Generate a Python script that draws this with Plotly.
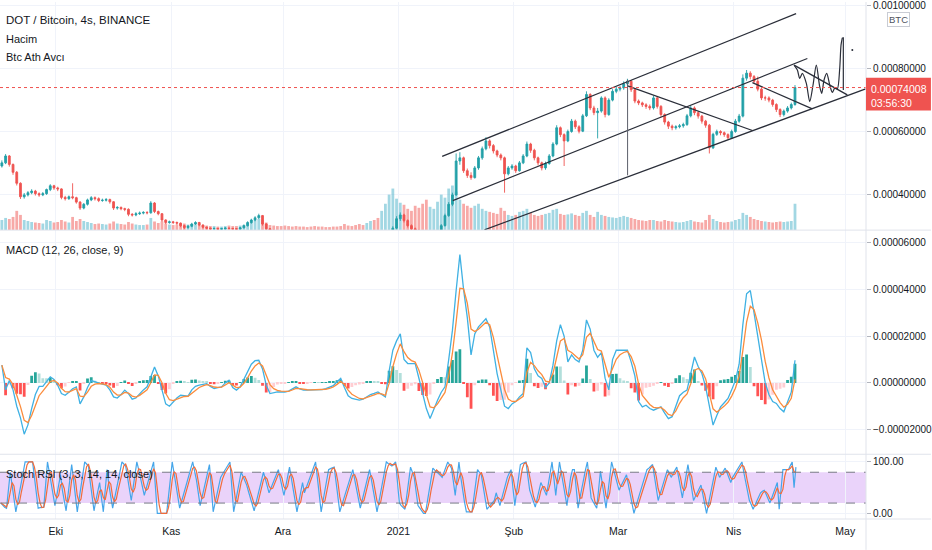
import numpy as np
import pandas as pd
import plotly.graph_objects as go

# ------------------------------------------------------------------ data
# daily bars from 2020-09-16 to 2021-04-17 (prices in 1e-6 BTC)
first_open_u = 490
close_u = [
    500, 522, 495, 470, 435, 392, 398,
    405, 410, 402, 398, 402, 415, 427,
    420, 417, 390, 386, 392, 389, 375,
    356, 368, 382, 389, 386, 380, 381,
    383, 376, 356, 358, 354, 352, 336,
    334, 338, 340, 342, 341, 372, 345,
    338, 318, 310, 312, 310, 308, 300,
    294, 298, 305, 310, 302, 295, 292,
    290, 291, 289, 290, 292, 291, 290,
    289, 293, 300, 310, 318, 325, 332,
    305, 290, 284, 280, 278, 276, 275,
    273, 272, 270, 268, 266, 265, 262,
    258, 256, 255, 254, 252, 250, 248,
    244, 232, 226, 222, 218, 214, 212,
    214, 218, 216, 215, 220, 235, 262,
    292, 322, 334, 316, 300, 290, 284,
    276, 266, 258, 262, 270, 282, 300,
    332, 368, 398, 506, 516, 475, 460,
    453, 484, 516, 545, 570, 555, 538,
    525, 516, 465, 484, 490, 475, 500,
    522, 560, 540, 516, 500, 484, 498,
    522, 560, 612, 590, 570, 600, 633,
    615, 601, 650, 718, 675, 660, 665,
    707, 654, 700, 728, 735, 739, 752,
    760, 733, 697, 691, 685, 680, 675,
    707, 680, 654, 630, 617, 612, 615,
    618, 622, 650, 675, 660, 649, 633,
    620, 548, 591, 600, 596, 590, 580,
    600, 633, 649, 770, 786, 775, 760,
    735, 707, 707, 700, 686, 670, 654,
    665, 675, 686, 740,
]
high_u = [
    508, 528, 525, 498, 474, 438, 404,
    410, 416, 414, 406, 407, 418, 432,
    430, 424, 419, 395, 396, 435, 392,
    378, 372, 386, 394, 393, 390, 386,
    388, 386, 378, 362, 361, 357, 355,
    340, 343, 345, 346, 346, 378, 375,
    348, 340, 320, 316, 315, 313, 310,
    303, 302, 309, 314, 312, 304, 297,
    294, 294, 293, 293, 295, 294, 293,
    292, 296, 304, 314, 322, 330, 338,
    334, 308, 292, 287, 283, 281, 279,
    278, 276, 275, 273, 271, 269, 268,
    264, 261, 259, 258, 257, 255, 253,
    251, 246, 234, 228, 224, 220, 216,
    217, 221, 221, 219, 224, 239, 268,
    298, 330, 342, 338, 320, 304, 294,
    288, 280, 270, 266, 274, 286, 305,
    338, 375, 405, 530, 534, 520, 482,
    470, 490, 522, 552, 582, 575, 560,
    542, 530, 520, 490, 496, 494, 506,
    528, 568, 564, 545, 520, 504, 504,
    528, 566, 620, 616, 594, 606, 640,
    638, 620, 656, 728, 722, 682, 675,
    712, 712, 706, 735, 742, 746, 760,
    768, 764, 737, 702, 695, 690, 686,
    714, 711, 684, 658, 634, 622, 620,
    624, 628, 656, 682, 680, 664, 653,
    637, 624, 596, 606, 604, 600, 594,
    606, 640, 656, 782, 796, 792, 780,
    775, 740, 714, 712, 704, 690, 674,
    670, 681, 692, 748,
]
low_u = [
    485, 496, 488, 462, 428, 385, 386,
    393, 400, 396, 392, 394, 398, 410,
    414, 410, 384, 380, 382, 384, 370,
    350, 352, 364, 378, 380, 375, 376,
    377, 370, 350, 351, 349, 346, 330,
    329, 330, 334, 336, 336, 338, 340,
    333, 312, 305, 306, 305, 303, 295,
    289, 290, 295, 302, 298, 291, 288,
    286, 287, 286, 286, 287, 288, 287,
    285, 287, 291, 297, 306, 314, 321,
    300, 285, 280, 276, 274, 272, 271,
    269, 268, 266, 264, 262, 261, 258,
    254, 252, 251, 250, 248, 246, 244,
    240, 228, 222, 218, 214, 210, 208,
    209, 211, 212, 211, 212, 218, 232,
    258, 288, 315, 310, 294, 284, 278,
    270, 260, 252, 254, 258, 267, 279,
    297, 328, 362, 395, 494, 468, 452,
    446, 450, 478, 510, 540, 546, 530,
    518, 508, 405, 460, 478, 468, 472,
    496, 518, 532, 508, 492, 476, 478,
    494, 518, 556, 582, 490, 566, 596,
    608, 594, 598, 646, 668, 652, 578,
    660, 645, 650, 696, 722, 728, 733,
    745, 726, 690, 684, 678, 672, 668,
    670, 673, 647, 622, 608, 604, 606,
    610, 612, 618, 645, 652, 641, 625,
    612, 530, 544, 586, 588, 583, 574,
    576, 596, 628, 645, 762, 766, 752,
    728, 700, 698, 693, 679, 662, 646,
    648, 660, 670, 682,
]
volume = [
    200, 240, 220, 260, 380, 300, 200,
    180, 160, 150, 140, 130, 200, 180,
    150, 160, 200, 170, 150, 260, 180,
    220, 180, 160, 140, 120, 130, 120,
    110, 130, 170, 130, 120, 110, 160,
    130, 110, 100, 100, 110, 240, 170,
    140, 170, 130, 110, 100, 110, 120,
    130, 110, 120, 110, 100, 90, 90,
    80, 80, 70, 70, 80, 90, 80,
    80, 90, 100, 120, 160, 200, 220,
    200, 150, 100, 90, 80, 80, 90,
    80, 70, 80, 70, 70, 60, 70,
    80, 70, 70, 60, 60, 70, 70,
    80, 120, 90, 80, 100, 120, 100,
    140, 180, 200, 240, 380, 520, 700,
    820, 620, 540, 500, 420, 380, 480,
    440, 520, 600, 460, 420, 560, 700,
    640, 820, 880, 760, 600, 520, 480,
    440, 480, 520, 420, 380, 360, 340,
    320, 440, 380, 300, 280, 300, 360,
    380, 420, 340, 300, 280, 300, 320,
    340, 400, 420, 320, 300, 310, 330,
    300, 280, 340, 380, 300, 260, 360,
    300, 280, 260, 250, 240, 260, 280,
    260, 240, 220, 200, 190, 180, 200,
    200, 180, 170, 200, 180, 170, 160,
    150, 160, 180, 200, 170, 160, 150,
    200, 300, 220, 180, 160, 150, 160,
    170, 200, 220, 340, 300, 260, 220,
    200, 180, 170, 160, 150, 160, 170,
    160, 170, 180, 520,
]
# MACD line, daily (1e-6 BTC)
macd_u = [
    7.6, -3, 1, -3, -10, -15, -22,
    -18, -11, -5, -1.5, -1.5, 0.5, 2.6,
    1.5, -1, -4.6, -5.3, -4, -2.5, -1.7,
    -9, -6, -2, 1, 0.4, 0, -0.5,
    -1, -3, -6, -6.5, -5, -3.1, -4.6,
    -7, -6.5, -4.6, -3, -1.7, 3, 6.8,
    3, -3, -9, -10, -8, -6.5, -5.3,
    -5.5, -5.7, -3, -1.5, -1, -0.6, -0.3,
    -1.5, -2.4, -2, -1.7, 0, 1.1, -2,
    -3.1, -1.7, 1.5, 4.5, 8, 9.5, 9.7,
    6, -1, -4.6, -4.2, -3.9, -3.9, -3.9,
    -3.5, -2.5, -1.7, -2.6, -3.1, -3.1, -3.1,
    -3, -3, -2.9, -2.5, -2, -1.2, 0.5,
    1.9, -2, -5.5, -6.7, -7, -7.4, -7,
    -6, -5, -4.5, -3.9, -5, -6, 5,
    14, 18, 21, 10, 8.3, 8.3, 8.3,
    2, -5, -11, -15.3, -11, -7.4, -4,
    -1.7, 10, 22.5, 39.6, 55, 40, 28,
    12, 21, 24, 26, 27.5, 24, 14,
    4, -3, -10, -11, -9, -8, -6,
    -4.6, 15, 13, 6, 3, 1.9, -2,
    0, 7.6, 18, 25, 20, 9, 12,
    10, 9, 14, 27, 23, 14, 11,
    13, 2, -3, 10, 14, 14, 14,
    14, 9, 3, -8, -10.3, -9.6, -11,
    -11.7, -11, -10.3, -13, -15.3, -14.5, -10,
    -5.5, -4, -3.1, 4, 11.1, 7, 4,
    -1.7, -10, -18.1, -14, -10.3, -8.5, -6.7,
    -3, 1.1, 8, 25, 38.2, 39.6, 30,
    20, 11, 0, -5, -8, -8.8, -11,
    -12.4, -8, -4, 9.7,
]
# Stoch RSI %K, 12-hour samples
stoch_k = [
    20, 15, 12, 10, 45, 80, 55, 25, 3, 22,
    42, 62, 82, 100, 100, 100, 100, 100, 70, 40,
    10, 11, 12, 12, 55, 100, 80, 60, 38, 15,
    35, 55, 75, 45, 25, 5, 35, 65, 95, 65,
    35, 3, 28, 52, 76, 100, 96, 92, 60, 30,
    5, 25, 45, 60, 30, 3, 45, 85, 55, 30,
    10, 28, 46, 64, 82, 100, 96, 92, 70, 48,
    25, 50, 75, 100, 85, 70, 52, 35, 48, 61,
    74, 87, 100, 50, 0, 0, 0, 0, 0, 0,
    33, 66, 100, 78, 55, 32, 10, 23, 36, 49,
    62, 75, 88, 100, 82, 65, 40, 15, 31, 47,
    63, 79, 95, 50, 3, 20, 37, 54, 70, 76,
    82, 88, 94, 100, 52, 3, 22, 41, 60, 80,
    72, 63, 55, 42, 30, 18, 5, 20, 35, 50,
    65, 80, 67, 53, 40, 49, 58, 67, 76, 85,
    68, 52, 35, 53, 72, 90, 68, 46, 25, 3,
    22, 41, 60, 40, 50, 60, 70, 80, 90, 100,
    68, 35, 3, 24, 45, 65, 85, 87, 88, 90,
    61, 32, 3, 15, 27, 39, 51, 63, 75, 85,
    66, 47, 28, 10, 25, 40, 55, 70, 85, 65,
    44, 24, 3, 22, 42, 61, 81, 100, 97, 95,
    92, 96, 100, 60, 20, 15, 12, 8, 35, 62,
    90, 80, 70, 42, 15, 10, 5, 0, 0, 22,
    44, 66, 88, 84, 81, 77, 74, 70, 80, 90,
    100, 94, 88, 62, 35, 68, 100, 70, 40, 22,
    3, 3, 3, 3, 30, 58, 85, 80, 75, 53,
    30, 8, 12, 17, 21, 25, 40, 28, 15, 29,
    43, 56, 70, 78, 85, 50, 15, 42, 68, 95,
    97, 98, 100, 73, 45, 34, 23, 12, 28, 44,
    60, 52, 43, 35, 57, 78, 100, 68, 35, 68,
    100, 79, 58, 37, 15, 43, 70, 85, 85, 48,
    10, 30, 50, 70, 85, 100, 65, 30, 23, 17,
    10, 46, 82, 58, 34, 10, 40, 70, 100, 86,
    73, 59, 45, 53, 60, 68, 75, 56, 38, 19,
    0, 13, 25, 37, 49, 61, 73, 85, 88, 92,
    95, 72, 48, 25, 37, 49, 61, 73, 85, 78,
    70, 77, 83, 90, 70, 50, 30, 52, 73, 95,
    72, 48, 25, 33, 40, 48, 55, 37, 18, 0,
    18, 36, 54, 72, 90, 80, 70, 76, 82, 88,
    79, 69, 60, 70, 76, 82, 88, 94, 100, 80,
    60, 43, 25, 17, 8, 16, 24, 32, 40, 43,
    45, 37, 28, 20, 30, 40, 50, 60, 8, 47,
    85, 85, 85, 85, 93, 100, 50, 90,
]

tick_dates = ["2020-10-01", "2020-11-01", "2020-12-01", "2021-01-01",
              "2021-02-01", "2021-03-01", "2021-04-01", "2021-05-01"]
tick_labels = ["Eki", "Kas", "Ara", "2021", "Şub", "Mar", "Nis", "May"]
price_ticks = [0.0004, 0.0006, 0.0008, 0.0010]
macd_ticks = [-0.00002, 0.0, 0.00002, 0.00004, 0.00006]
stoch_ticks = [0, 100]
last_price = 0.00074008
countdown = "03:56:30"

# user drawings (trend lines): start/end time and price
line_t0 = ["2021-01-12 18:00", "2021-01-15 14:25", "2021-01-24 02:25",
           "2021-03-03 13:00", "2021-04-06 01:40", "2021-04-17 06:00"]
line_p0 = [0.0005206, 0.0003800, 0.0002867, 0.0007451, 0.0007556, 0.0008117]
line_t1 = ["2021-04-17 19:00", "2021-04-20 19:40", "2021-05-06 11:30",
           "2021-04-06 01:40", "2021-04-22 03:50", "2021-05-01 13:10"]
line_p1 = [0.0009756, 0.0008327, 0.0007356, 0.0006032, 0.0006721, 0.0007165]
vline_t = "2021-03-03 13:00"
vline_p = [0.0007651, 0.0004603]
# hand-drawn projection
proj_t = ["2021-04-17 06:00", "2021-04-18 03:20", "2021-04-18 18:45",
          "2021-04-19 11:30", "2021-04-20 13:10", "2021-04-21 11:00",
          "2021-04-22 08:20", "2021-04-23 05:30", "2021-04-24 03:20",
          "2021-04-24 16:20", "2021-04-25 07:10", "2021-04-26 00:30",
          "2021-04-26 20:00", "2021-04-27 12:30", "2021-04-28 06:00",
          "2021-04-28 21:00", "2021-04-29 12:15", "2021-04-29 20:40",
          "2021-04-30 05:00"]
proj_p = [0.0008117, 0.0007959, 0.0007692, 0.0007851, 0.0007533, 0.0006952,
          0.0007482, 0.0008117, 0.0007429, 0.0007216, 0.0007641, 0.0007851,
          0.0007482, 0.0007248, 0.0007397, 0.0007356, 0.0008009, 0.0008752,
          0.0008984]
drop_t = ["2021-04-30 05:00", "2021-04-30 11:30", "2021-04-30 11:30"]
drop_p = [0.0008984, 0.0008984, 0.0007324]
dot_t = ["2021-05-02 21:20"]
dot_p = [0.0008594]

# ------------------------------------------------------------------ derived
days = pd.date_range("2020-09-16 12:00", periods=len(close_u), freq="D")
close = np.array(close_u) * 1e-6
high = np.array(high_u) * 1e-6
low = np.array(low_u) * 1e-6
open_ = np.concatenate([[first_open_u * 1e-6], close[:-1]])
up = close >= open_

macd = pd.Series(macd_u) * 1e-6
signal = macd.ewm(alpha=0.5, adjust=False).mean()
hist = macd - signal
hist_prev = hist.shift(1).fillna(0)
hist_col = []
for h, hp in zip(hist, hist_prev):
    if h >= 0:
        hist_col.append("#26a69a" if h > hp else "#b2dfdb")
    else:
        hist_col.append("#ff5252" if h < hp else "#ffcdd2")

k_times = pd.date_range("2020-09-16 06:00", periods=len(stoch_k), freq="12h")
k = pd.Series(stoch_k, dtype=float)
d = k.rolling(3, min_periods=1).mean()

# ------------------------------------------------------------------ figure
FONT = "Liberation Sans, Arial, sans-serif"
TXT = "#131722"
GRID = "#f0f3fa"
SEP = "#e0e3eb"
XR = ["2020-09-16 00:00", "2021-05-06 13:40"]
H = 519.0
dom_price = [(H - 229) / H, 1.0]
dom_macd = [(H - 454) / H, (H - 229) / H]
dom_stoch = [0.0, (H - 454) / H]

fig = go.Figure()

vol_col = np.where(up, "rgba(70,175,200,0.5)", "rgba(239,83,80,0.5)")
fig.add_trace(go.Bar(x=days, y=volume, marker_color=vol_col, marker_line_width=0,
                     xaxis="x", yaxis="y", hoverinfo="skip"))
fig.add_trace(go.Candlestick(
    x=days, open=open_, high=high, low=low, close=close,
    xaxis="x", yaxis="y4",
    increasing=dict(line=dict(color="#22a0a8", width=0.9), fillcolor="#22a0a8"),
    decreasing=dict(line=dict(color="#ef5350", width=0.9), fillcolor="#ef5350"),
    whiskerwidth=0, hoverinfo="skip"))

lc = "#2a2e39"
for t0, p0, t1, p1 in zip(line_t0, line_p0, line_t1, line_p1):
    fig.add_trace(go.Scatter(x=[t0, t1], y=[p0, p1], mode="lines",
                             line=dict(color=lc, width=1.3),
                             xaxis="x", yaxis="y4", hoverinfo="skip"))
fig.add_trace(go.Scatter(x=[vline_t, vline_t], y=vline_p, mode="lines",
                         line=dict(color="#5d606b", width=1),
                         xaxis="x", yaxis="y4", hoverinfo="skip"))
fig.add_trace(go.Scatter(x=proj_t, y=proj_p, mode="lines",
                         line=dict(color=lc, width=1.2, shape="spline", smoothing=0.8),
                         xaxis="x", yaxis="y4", hoverinfo="skip"))
fig.add_trace(go.Scatter(x=drop_t, y=drop_p, mode="lines",
                         line=dict(color=lc, width=1.2),
                         xaxis="x", yaxis="y4", hoverinfo="skip"))
fig.add_trace(go.Scatter(x=dot_t, y=dot_p, mode="markers",
                         marker=dict(color=lc, size=2),
                         xaxis="x", yaxis="y4", hoverinfo="skip"))

# MACD pane
fig.add_trace(go.Bar(x=days, y=hist, marker_color=hist_col, marker_line_width=0,
                     xaxis="x2", yaxis="y2", hoverinfo="skip"))
fig.add_trace(go.Scatter(x=days, y=macd, mode="lines",
                         line=dict(color="#3fb1e3", width=1.3),
                         xaxis="x2", yaxis="y2", hoverinfo="skip"))
fig.add_trace(go.Scatter(x=days, y=signal, mode="lines",
                         line=dict(color="#fb8c3c", width=1.3),
                         xaxis="x2", yaxis="y2", hoverinfo="skip"))

# Stoch RSI pane
fig.add_trace(go.Scatter(x=k_times, y=k, mode="lines",
                         line=dict(color="#45a6ea", width=1.2),
                         xaxis="x3", yaxis="y3", hoverinfo="skip"))
fig.add_trace(go.Scatter(x=k_times, y=d, mode="lines",
                         line=dict(color="#f26b3a", width=1.2),
                         xaxis="x3", yaxis="y3", hoverinfo="skip"))

xcommon = dict(type="date", range=XR, tickvals=tick_dates, ticktext=tick_labels,
               showgrid=True, gridcolor=GRID, gridwidth=1, zeroline=False,
               showline=False, ticks="")
ytick_font = dict(family=FONT, size=10, color=TXT)


def fmt8(v):
    s = f"{abs(v):.8f}"
    return ("\u2212" + s) if v < 0 else s


fig.update_layout(
    width=932, height=550,
    margin=dict(l=0, r=65, t=0, b=31),
    paper_bgcolor="white", plot_bgcolor="white",
    showlegend=False, bargap=0.25,
    font=dict(family=FONT, size=11, color=TXT),
    xaxis=dict(**xcommon, anchor="y", showticklabels=False,
               rangeslider=dict(visible=False)),
    xaxis2=dict(**xcommon, anchor="y2", showticklabels=False, matches="x"),
    xaxis3=dict(**xcommon, anchor="y3", showticklabels=True, matches="x",
                ticklabelstandoff=4,
                tickfont=dict(family=FONT, size=10.5, color=TXT)),
    yaxis=dict(domain=dom_price, range=[0, 4500], visible=False, fixedrange=True),
    yaxis4=dict(domain=dom_price, overlaying="y", side="right", anchor="x",
                range=[0.0002857, 0.0010127],
                tickvals=price_ticks, ticktext=[fmt8(v) for v in price_ticks],
                showgrid=True, gridcolor=GRID, zeroline=False,
                ticks="outside", ticklen=4, tickcolor="#b2b5be",
                ticklabeloverflow="allow",
                tickfont=ytick_font),
    yaxis2=dict(domain=dom_macd, side="right", anchor="x2",
                range=[-0.0000306, 0.0000655],
                tickvals=macd_ticks, ticktext=[fmt8(v) for v in macd_ticks],
                showgrid=True, gridcolor=GRID, zeroline=False,
                ticks="outside", ticklen=4, tickcolor="#b2b5be",
                tickfont=ytick_font),
    yaxis3=dict(domain=dom_stoch, side="right", anchor="x3",
                range=[-11, 115],
                tickvals=stoch_ticks, ticktext=[f"{v:.2f}" for v in stoch_ticks],
                showgrid=True, gridcolor=GRID, zeroline=False,
                ticks="outside", ticklen=4, tickcolor="#b2b5be",
                tickfont=ytick_font),
)

shapes = []
# stoch band
shapes.append(dict(type="rect", xref="paper", yref="y3", x0=0, x1=1, y0=20, y1=80,
                   fillcolor="#ead3fa", line=dict(width=0), layer="below"))
for lvl in (80, 20):
    shapes.append(dict(type="line", xref="paper", yref="y3", x0=0, x1=1, y0=lvl, y1=lvl,
                       line=dict(color="#787b86", width=1, dash="dash")))
# last price dotted line
shapes.append(dict(type="line", xref="paper", yref="y4", x0=0, x1=1,
                   y0=last_price, y1=last_price,
                   line=dict(color="#ef5350", width=1, dash="dot")))
# pane separators and axis border
right_edge = 932 / 867
for yy in (dom_price[0], dom_macd[0], 0.0):
    shapes.append(dict(type="line", xref="paper", yref="paper", x0=0, x1=right_edge,
                       y0=yy, y1=yy, line=dict(color=SEP, width=1)))
shapes.append(dict(type="line", xref="paper", yref="paper", x0=1, x1=1,
                   y0=-31 / H, y1=1, line=dict(color=SEP, width=1)))
# last price label box
shapes.append(dict(type="rect", xref="paper", yref="paper", x0=1, x1=right_edge,
                   y0=(H - 109) / H, y1=(H - 76) / H,
                   fillcolor="#ef5350", line=dict(width=0)))
fig.update_layout(shapes=shapes)

ann = []


def add_text(txt, px, py, size=11, color=TXT, **kw):
    ann.append(dict(text=txt, xref="paper", yref="paper", x=px / 867, y=(H - py) / H,
                    xanchor="left", yanchor="middle", showarrow=False,
                    font=dict(family=FONT, size=size, color=color), **kw))


add_text("DOT / Bitcoin, 4s, BINANCE", 4, 18, size=11.5)
add_text("Hacim", 4, 37)
add_text("Btc Ath Avcı", 4, 55)
add_text("MACD (12, 26, close, 9)", 4, 249)
add_text("Stoch RSI (3, 3, 14, 14, close)", 4, 474)
add_text(fmt8(last_price), 870, 87, size=10.5, color="white")
add_text(countdown, 870, 101, size=10.5, color="white")
ann.append(dict(text="BTC", xref="paper", yref="paper", x=900 / 867, y=(H - 18) / H,
                xanchor="center", yanchor="middle", showarrow=False,
                font=dict(family=FONT, size=9.5, color="#50535e"),
                bordercolor="#c9ccd4", borderwidth=1, borderpad=1, bgcolor="white"))
fig.update_layout(annotations=ann)

fig.write_html("out.html",
               config={"displayModeBar": False},
               post_script="document.body.style.margin='0';"
                           "document.body.style.overflow='hidden';")
